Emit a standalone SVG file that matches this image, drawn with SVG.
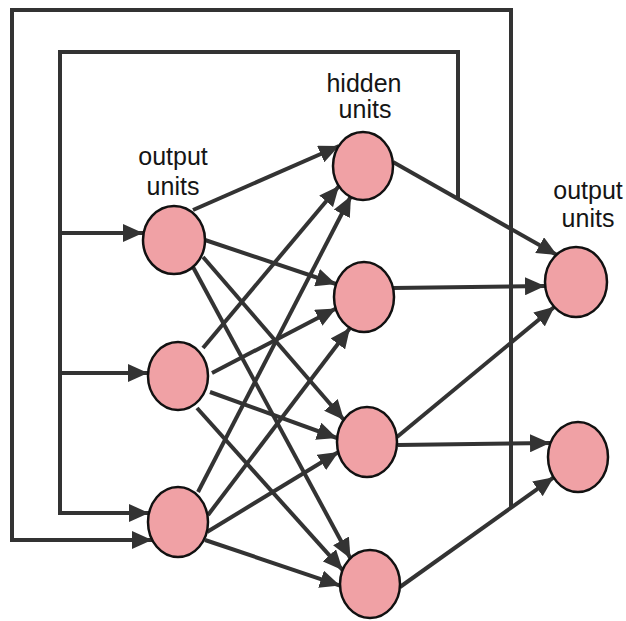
<svg xmlns="http://www.w3.org/2000/svg" width="626" height="621" viewBox="0 0 626 621">
  <style>
    .bg { fill: #ffffff; }
    .unit { fill: #f0a1a5; stroke: #111111; stroke-width: 2.5; }
    .edge { stroke: #333333; stroke-width: 4; fill: none; marker-end: url(#head); }
    .loop { stroke: #333333; stroke-width: 4; fill: none; stroke-linejoin: miter; }
    .label { font-family: "Liberation Sans", Arial, sans-serif; font-size: 25px; fill: #151515; text-anchor: middle; }
  </style>
  <defs>
    <marker id="head" markerUnits="userSpaceOnUse" markerWidth="20" markerHeight="18" refX="20" refY="9" orient="auto">
      <path d="M0,0 L20,9 L0,18 Z" fill="#333333"/>
    </marker>
  </defs>

  <rect class="bg" x="0" y="0" width="626" height="621"/>

  <g id="connectors">
    <!-- recurrent feedback loops -->
    <path class="loop" d="M511,508 L511,10 L12,10 L12,540 L140,540" />
    <line class="edge" x1="130" y1="540" x2="152" y2="540"/>
    <path class="loop" d="M458,199 L458,52 L60,52 L60,513 L140,513" />
    <line class="edge" x1="130" y1="513" x2="149" y2="513"/>
    <line class="edge" x1="60" y1="233" x2="143" y2="233"/>
    <line class="edge" x1="60" y1="373" x2="148" y2="373"/>

    <!-- first layer to hidden units -->
    <line class="edge" x1="193" y1="210" x2="339" y2="146"/>
    <line class="edge" x1="205" y1="240" x2="336" y2="284"/>
    <line class="edge" x1="203" y1="257" x2="344" y2="420"/>
    <line class="edge" x1="193" y1="267" x2="350.5" y2="558.5"/>
    <line class="edge" x1="203" y1="348" x2="339" y2="186"/>
    <line class="edge" x1="212" y1="373" x2="336" y2="308.5"/>
    <line class="edge" x1="210" y1="392" x2="337" y2="438"/>
    <line class="edge" x1="197" y1="408" x2="342.7" y2="570.2"/>
    <line class="edge" x1="198" y1="492" x2="351" y2="196"/>
    <line class="edge" x1="208" y1="515" x2="350" y2="328"/>
    <line class="edge" x1="207" y1="532" x2="338.5" y2="452"/>
    <line class="edge" x1="205" y1="540" x2="340" y2="585.6"/>

    <!-- hidden units to output units -->
    <line class="edge" x1="393" y1="162" x2="557" y2="255"/>
    <line class="edge" x1="393" y1="288" x2="545" y2="286"/>
    <line class="edge" x1="397" y1="437" x2="554.5" y2="306.7"/>
    <line class="edge" x1="398" y1="445" x2="550" y2="443"/>
    <line class="edge" x1="400" y1="587" x2="553.7" y2="477.3"/>
  </g>

  <g id="in1"><ellipse class="unit" cx="174" cy="240" rx="31" ry="34"/></g>
  <g id="in2"><ellipse class="unit" cx="178" cy="376" rx="30" ry="34"/></g>
  <g id="in3"><ellipse class="unit" cx="178" cy="522" rx="30" ry="35"/></g>

  <g id="hid1"><ellipse class="unit" cx="363" cy="166" rx="30" ry="34"/></g>
  <g id="hid2"><ellipse class="unit" cx="364" cy="297" rx="30" ry="35"/></g>
  <g id="hid3"><ellipse class="unit" cx="367" cy="442" rx="30" ry="35"/></g>
  <g id="hid4"><ellipse class="unit" cx="370" cy="584" rx="30" ry="34"/></g>

  <g id="out1"><ellipse class="unit" cx="576" cy="282" rx="31" ry="35"/></g>
  <g id="out2"><ellipse class="unit" cx="578" cy="457" rx="30" ry="35"/></g>

  <g id="labels">
    <text class="label" x="173" y="165">output</text>
    <text class="label" x="173" y="195">units</text>
    <text class="label" x="364" y="92">hidden</text>
    <text class="label" x="365" y="118">units</text>
    <text class="label" x="588" y="199">output</text>
    <text class="label" x="588" y="227">units</text>
  </g>
</svg>
